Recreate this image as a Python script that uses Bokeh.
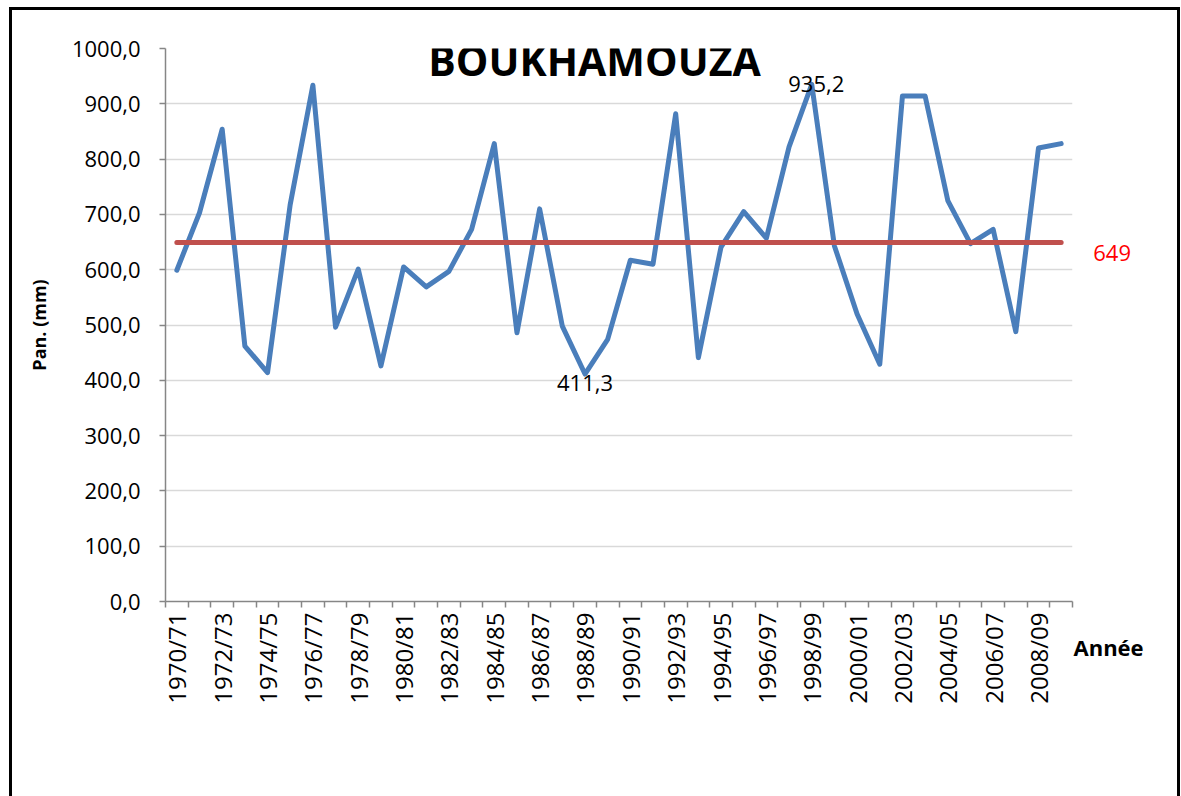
from math import pi
from bokeh.plotting import figure
from bokeh.models import FixedTicker, Label, Range1d
from bokeh.embed import file_html
from bokeh.resources import INLINE

# ---- data ----
years = ["1970/71", "1971/72", "1972/73", "1973/74", "1974/75", "1975/76", "1976/77", "1977/78",
         "1978/79", "1979/80", "1980/81", "1981/82", "1982/83", "1983/84", "1984/85", "1985/86",
         "1986/87", "1987/88", "1988/89", "1989/90", "1990/91", "1991/92", "1992/93", "1993/94",
         "1994/95", "1995/96", "1996/97", "1997/98", "1998/99", "1999/00", "2000/01", "2001/02",
         "2002/03", "2003/04", "2004/05", "2005/06", "2006/07", "2007/08", "2008/09", "2009/10"]
pan_mm = [599, 703, 854, 462, 414, 718, 933.5, 496,
          601, 426, 605, 569, 597, 673, 828, 486,
          710, 498, 411.3, 474, 617, 610, 882, 441,
          641, 705, 657, 822, 935.2, 643, 520, 429,
          914, 914, 725, 647, 673, 488, 820, 828]
mean_mm = 649
y_ticks = [0, 100, 200, 300, 400, 500, 600, 700, 800, 900, 1000]
labelled_years = ["1998/99", "1988/89"]
title_text = "BOUKHAMOUZA"
y_title = "Pan. (mm)"
x_title = "Année"

FONT = "Open Sans"
n = len(years)
xs = list(range(n))

p = figure(width=1171, height=789, output_backend="svg", toolbar_location=None,
           x_range=Range1d(-0.5, n - 0.5), y_range=Range1d(0, 1000),
           min_border_left=153, min_border_right=111, min_border_top=38, min_border_bottom=198)
p.styles = {"margin-left": "9px", "margin-top": "7px",
            "border-top": "3px solid black", "border-left": "3px solid black",
            "border-right": "3px solid black"}
p.outline_line_color = None
p.background_fill_color = "white"
p.border_fill_color = "white"

# grid
p.xgrid.visible = False
p.ygrid.ticker = FixedTicker(ticks=y_ticks)
p.ygrid.grid_line_color = "#D9D9D9"
p.ygrid.grid_line_width = 1.5

# series (mean line drawn over the rainfall line, as in the reference)
p.line(xs, pan_mm, line_color="#4A7EBB", line_width=5, line_join="round", line_cap="round")
p.line(xs, [mean_mm] * n, line_color="#C0504D", line_width=5, line_cap="round")

# y axis
ya = p.yaxis[0]
ya.ticker = FixedTicker(ticks=y_ticks)
ya.major_label_overrides = {t: f"{t:.1f}".replace(".", ",") for t in y_ticks}
ya.axis_line_color = "#868686"
ya.axis_line_width = 1.5
ya.major_tick_line_color = "#868686"
ya.major_tick_line_width = 1.5
ya.major_tick_out = 6
ya.major_tick_in = 0
ya.minor_tick_line_color = None
ya.major_label_standoff = 19
ya.major_label_text_font = FONT
ya.major_label_text_font_size = "22px"
ya.major_label_text_color = "black"
ya.axis_label = y_title
ya.axis_label_text_font = FONT
ya.axis_label_text_font_style = "bold"
ya.axis_label_text_font_size = "18px"
ya.axis_label_text_color = "black"
ya.axis_label_standoff = 18

# x axis
xa = p.xaxis[0]
xa.ticker = FixedTicker(ticks=xs[::2], minor_ticks=[i - 0.5 for i in range(n + 1)])
xa.major_label_overrides = {i: years[i] for i in xs[::2]}
xa.major_label_orientation = pi / 2
xa.axis_line_color = "#868686"
xa.axis_line_width = 1.5
xa.major_tick_line_color = None
xa.major_tick_out = 6
xa.major_tick_in = 0
xa.minor_tick_line_color = "#868686"
xa.minor_tick_line_width = 1.5
xa.minor_tick_out = 6
xa.minor_tick_in = 0
xa.major_label_standoff = 5
xa.major_label_text_font = FONT
xa.major_label_text_font_size = "24px"
xa.major_label_text_color = "black"

# title inside the plot
p.add_layout(Label(x=(n - 1) / 2, y=1000, x_offset=-24.5, y_offset=-11, text=title_text,
                   text_font=FONT, text_font_style="bold", text_font_size="41px",
                   text_align="center", text_baseline="middle", text_color="black"))

# data labels (max / min)
offsets = {"1998/99": (4.5, 0), "1988/89": (0, -9)}
for yr in labelled_years:
    i = years.index(yr)
    v = pan_mm[i]
    dx, dy = offsets[yr]
    p.add_layout(Label(x=i, y=v, x_offset=dx, y_offset=dy, text=f"{v:.1f}".replace(".", ","),
                       text_font=FONT, text_font_size="22px", text_align="center",
                       text_baseline="middle", text_color="black"))

# texts outside the frame: placed in the right panel so they are not clipped
p.add_layout(Label(x=n - 1, y=mean_mm, x_offset=51, y_offset=-10, text=str(mean_mm),
                   text_font=FONT, text_font_size="22px", text_align="center",
                   text_baseline="middle", text_color="red"), "right")
p.add_layout(Label(x=n - 0.5, y=0, x_offset=1, y_offset=-45, text=x_title,
                   text_font=FONT, text_font_style="bold", text_font_size="22px",
                   text_align="left", text_baseline="middle", text_color="black"), "right")

open("out.html", "w").write(file_html(p, INLINE))
